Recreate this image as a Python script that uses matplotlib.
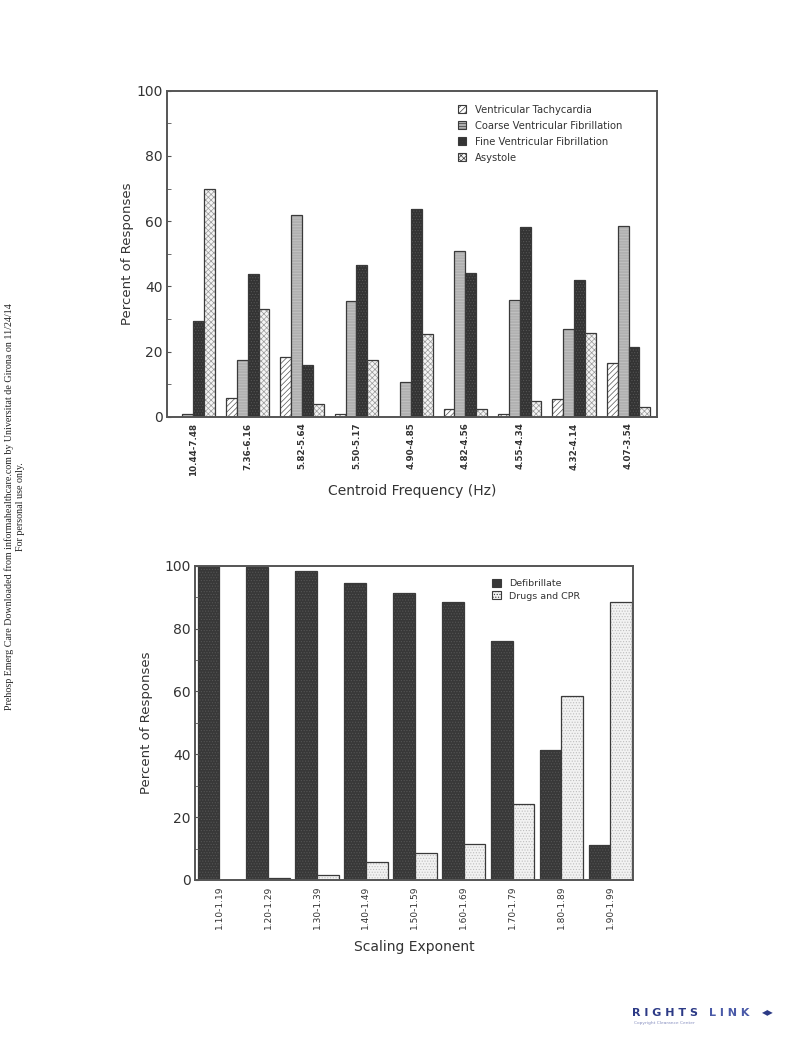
import matplotlib
matplotlib.use('Agg')
import matplotlib.pyplot as plt
import numpy as np
from matplotlib.patches import Patch

plt.rcParams['font.family'] = ['DejaVu Sans']
plt.rcParams['hatch.linewidth'] = 0.5

# 상단 차트 데이터: 중심 주파수 구간별 응답 비율
freq_labels = ['10.44-7.48', '7.36-6.16', '5.82-5.64', '5.50-5.17', '4.90-4.85',
               '4.82-4.56', '4.55-4.34', '4.32-4.14', '4.07-3.54']
vt = [0, 5.7, 18.3, 0.9, 0, 2.4, 0.8, 5.5, 16.5]
coarse_vf = [0.9, 17.6, 61.8, 35.6, 10.7, 51.0, 36.0, 27.0, 58.5]
fine_vf = [29.5, 43.7, 16.0, 46.5, 63.7, 44.2, 58.3, 42.0, 21.5]
asystole = [70.0, 33.0, 4.0, 17.5, 25.5, 2.4, 5.0, 25.8, 3.2]

# 하단 차트 데이터: 스케일링 지수 구간별 응답 비율
exp_labels = ['1.10-1.19', '1.20-1.29', '1.30-1.39', '1.40-1.49', '1.50-1.59',
              '1.60-1.69', '1.70-1.79', '1.80-1.89', '1.90-1.99']
defib = [100, 99.6, 98.3, 94.4, 91.3, 88.5, 75.9, 41.4, 11.0]
drugs_cpr = [0, 0.5, 1.7, 5.7, 8.7, 11.4, 24.1, 58.6, 88.6]

edge = '#3a3a3a'
text_c = '#333333'


def hatched_bar(ax, x, h, w, face, hatch, hcolor):
    # 해치 색을 따로 주기 위해 두 번 그림
    ax.bar(x, h, w, color=face, hatch=hatch, edgecolor=hcolor, linewidth=0)
    ax.bar(x, h, w, fill=False, edgecolor=edge, linewidth=0.9)


def style_axes(ax):
    ax.set_ylim(0, 100)
    ax.set_yticks(range(0, 101, 20))
    ax.set_yticks(range(10, 100, 20), minor=True)
    ax.tick_params(axis='y', which='both', direction='in', length=3, color='#555555',
                   labelsize=10, labelcolor=text_c, pad=3)
    ax.tick_params(axis='x', length=0, pad=4)
    for s in ax.spines.values():
        s.set_color('#555555')
        s.set_linewidth(1.4)


fig = plt.figure(figsize=(7.92, 10.44), dpi=100)

# ---------- 상단 차트 ----------
ax1 = fig.add_axes([0.211, 0.6006, 0.619, 0.3125])
x = np.arange(len(freq_labels))
w = 0.2
series = [
    (vt, 'white', '//////', '#555555', 'Ventricular Tachycardia'),
    (coarse_vf, '#b0b0b0', '------', '#c6c6c6', 'Coarse Ventricular Fibrillation'),
    (fine_vf, '#333333', '......', '#555555', 'Fine Ventricular Fibrillation'),
    (asystole, '#f4f4f4', 'xxxxxx', '#9a9a9a', 'Asystole'),
]
handles = []
for k, (vals, face, hatch, hcol, lab) in enumerate(series):
    hatched_bar(ax1, x + (k - 1.5) * w, vals, w, face, hatch, hcol)
    handles.append(Patch(facecolor=face, hatch=hatch, edgecolor=edge, linewidth=0.8, label=lab))
ax1.set_xlim(-0.48, 8.53)
style_axes(ax1)
ax1.set_xticks(x)
ax1.set_xticklabels(freq_labels, rotation=90, fontsize=6.3, fontweight='bold', color=text_c)
ax1.set_ylabel('Percent of Responses', fontsize=9.5, color=text_c, labelpad=2)
ax1.set_xlabel('Centroid Frequency (Hz)', fontsize=10, color=text_c, labelpad=6)
ax1.legend(handles=handles, loc='upper left', bbox_to_anchor=(0.575, 0.985), frameon=False,
           fontsize=7.2, handlelength=0.75, handleheight=0.75, handletextpad=0.9,
           labelspacing=0.6, labelcolor=text_c)

# ---------- 하단 차트 ----------
ax2 = fig.add_axes([0.246, 0.1571, 0.553, 0.301])
x2 = np.arange(len(exp_labels))
w2 = 0.445
hatched_bar(ax2, x2 - w2 / 2, defib, w2, '#383838', '......', '#555555')
hatched_bar(ax2, x2 + w2 / 2, drugs_cpr, w2, '#f2f2f2', '......', '#bdbdbd')
ax2.set_xlim(-0.5, 8.46)
style_axes(ax2)
ax2.set_xticks(x2)
ax2.set_xticklabels(exp_labels, rotation=90, fontsize=6.5, color=text_c)
ax2.set_ylabel('Percent of Responses', fontsize=9.5, color=text_c, labelpad=8)
ax2.set_xlabel('Scaling Exponent', fontsize=10, color=text_c, labelpad=8)
h2 = [Patch(facecolor='#383838', hatch='......', edgecolor=edge, linewidth=0.8, label='Defibrillate'),
      Patch(facecolor='#f2f2f2', hatch='......', edgecolor=edge, linewidth=0.8, label='Drugs and CPR')]
ax2.legend(handles=h2, loc='upper left', bbox_to_anchor=(0.66, 0.985), frameon=False,
           fontsize=6.8, handlelength=0.9, handleheight=0.9, handletextpad=0.9,
           labelspacing=0.35, labelcolor=text_c)

# 왼쪽 세로 다운로드 문구
fig.text(0.011, 0.515, 'Prehosp Emerg Care Downloaded from informahealthcare.com by Universitat de Girona on 11/24/14',
         rotation=90, ha='center', va='center', fontsize=7.2, family='Liberation Serif', color='#222222')
fig.text(0.026, 0.515, 'For personal use only.', rotation=90, ha='center', va='center',
         fontsize=7.2, family='Liberation Serif', color='#222222')

# RIGHTSLINK 로고 텍스트
fig.text(0.798, 0.030, 'R I G H T S', ha='left', va='center', fontsize=8, fontweight='bold', color='#2c3a86')
fig.text(0.895, 0.030, 'L I N K', ha='left', va='center', fontsize=8, fontweight='bold', color='#4a5aa8')
fig.text(0.962, 0.030, '\u25c0\u25b6', ha='left', va='center', fontsize=5.5, color='#2c3a86')
fig.text(0.80, 0.020, 'Copyright Clearance Center', ha='left', va='center', fontsize=3.2, color='#8890c0')

fig.savefig('out.png', dpi=100)
